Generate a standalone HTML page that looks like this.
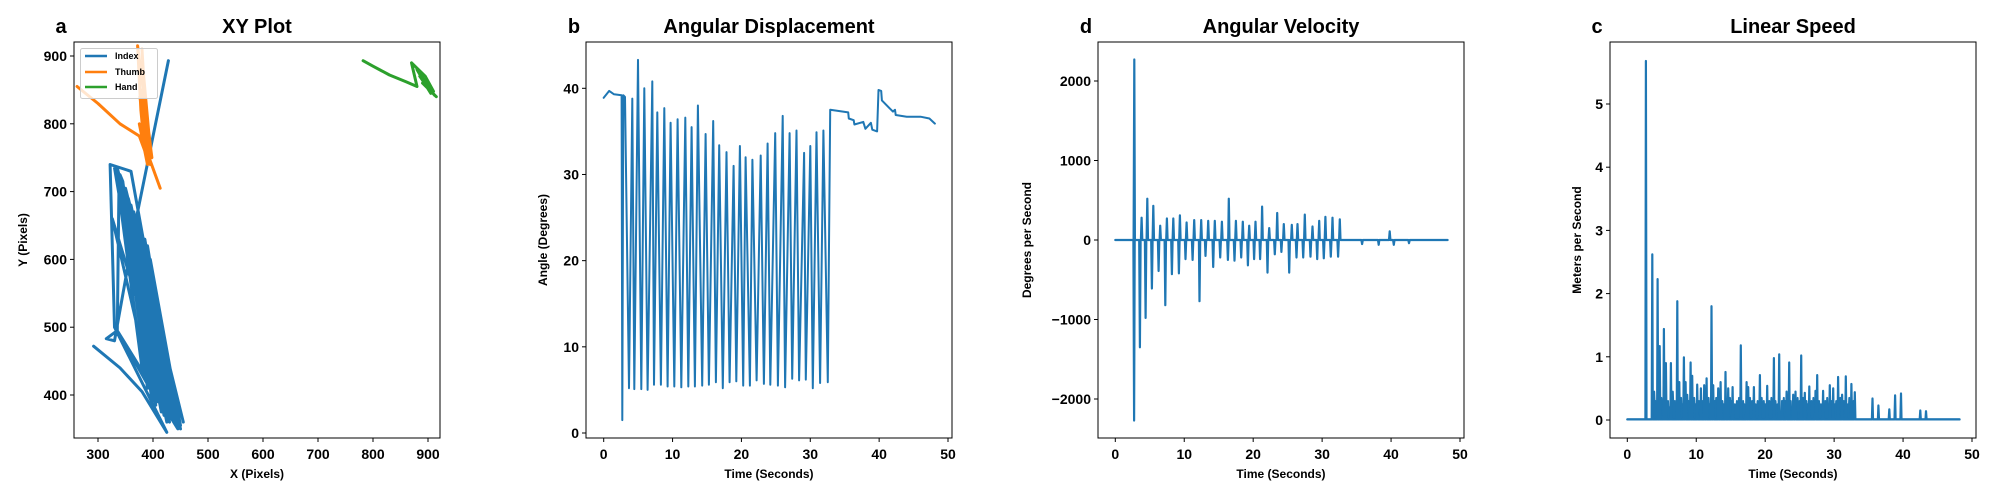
<!DOCTYPE html>
<html><head><meta charset="utf-8"><style>
html,body{margin:0;padding:0;background:#fff;}
svg{display:block;font-family:"Liberation Sans",Arial,sans-serif;font-weight:bold;}
</style></head><body>
<svg id="fig" width="2000" height="500" viewBox="0 0 2000 500" xmlns="http://www.w3.org/2000/svg"></svg>
<script>
// ---------- DATA ----------
// Panel a: XY plot
const indexX = [292,340,380,425,330,322,360,440,335,450,340,430,345,445,350,420,355,440,360,410,365,435,370,400,375,430,380,395,385,440,390,410,395,450,340,345,400,350,455,355,415,360,445,335,338,405,342,425,348,390,352,448,358,400,362,438,366,412,340,395,344,430,350,385,356,420,336,445,330,400,326,435,333,380,337,415,341,450,346,408,335,315,330,372,428];
const indexY = [472,440,405,345,500,740,730,370,735,355,720,360,710,380,700,370,690,360,680,390,670,365,660,400,650,370,640,410,630,365,620,420,600,355,725,715,380,705,360,690,395,680,350,495,700,385,690,360,680,410,670,355,660,395,650,365,640,400,715,420,705,375,695,430,685,380,720,365,735,400,660,370,728,440,712,375,700,350,690,390,495,483,480,670,893];
const thumbX = [262,300,340,375,385,378,372,395,380,390,375,398,385,380,390,395,376,392,382,388,378,384,413];
const thumbY = [855,830,800,782,760,820,915,770,850,740,800,750,830,910,770,740,840,790,880,760,820,770,705];
const handX = [782,800,830,860,880,870,895,910,890,915,900,905,895,912,880,898,885,905];
const handY = [893,885,872,862,855,890,870,848,860,840,852,845,858,842,880,855,870,850];
// Panel b: angular displacement
const angT = [0,0.8,1.5,2.6,2.7,2.85,3.1,3.67,4.16,4.45,4.98,5.46,5.9,6.38,7.06,7.3,7.79,8.3,8.8,9.28,9.72,10.25,10.73,11.27,11.85,12.28,12.77,13.25,13.68,14.3,14.8,15.28,15.9,16.3,16.78,17.3,17.84,18.28,18.86,19.25,19.78,20.26,20.6,21.23,21.6,22.2,22.8,23.26,23.8,24.2,24.9,25.3,26.0,26.35,27.0,27.37,28.0,28.38,29.1,29.35,30.0,30.37,30.9,31.43,31.9,32.54,32.9,35.5,35.6,36.3,36.4,37.7,38.0,38.8,39.0,39.7,39.9,40.3,40.4,42,42.3,42.4,44,46,47.3,48.1];
const angV = [38.9,39.7,39.3,39.2,1.5,39.2,39.0,5.2,38.8,5.1,43.3,5.1,40,5,40.8,5.6,37.2,5.6,37.7,5.4,36,5.4,36.4,5.3,36.6,5.4,35.5,5.4,38,5.5,34.7,5.6,36.2,5.9,33.4,5.2,32.6,5.9,31,6,33.3,5.5,32,5.5,31.7,6.1,32.2,5.7,33.6,5.6,34.8,5.5,36.8,5.3,34.8,6.3,35.1,6.1,32.5,6.2,33.3,5.2,34.9,5.8,35.1,5.9,37.5,37.2,36.5,36.3,35.8,36.1,35.3,36,35.2,35,39.8,39.7,38.6,37.3,37.5,36.9,36.7,36.7,36.5,35.9];
// Panel d: angular velocity spikes
const velT = [2.72,2.75,3.57,3.82,4.4,4.64,5.31,5.51,6.28,6.52,7.25,7.49,8.21,8.41,9.23,9.37,10.19,10.34,11.21,11.45,12.22,12.46,13.09,13.48,14.2,14.44,15.22,15.46,16.33,16.47,17.29,17.49,18.26,18.5,19.23,19.42,20.14,20.34,21.01,21.3,22.08,22.32,23.14,23.48,24.1,24.44,25.22,25.6,26.28,26.43,27.25,27.49,28.31,28.6,29.28,29.57,30.24,30.48,31.26,31.5,32.32,32.56,35.8,38.2,39.8,40.4,42.6];
const velV = [-2270,2270,-1350,280,-980,520,-610,430,-390,180,-820,270,-430,270,-420,310,-240,220,-250,250,-770,250,-200,240,-340,240,-220,230,-250,520,-260,240,-220,230,-320,180,-240,230,-240,420,-410,150,-180,340,-150,200,-410,190,-220,200,-220,320,-210,170,-240,240,-230,290,-210,280,-210,260,-50,-60,110,-60,-40];
// Panel c: linear speed spikes
const spdT = [2.7,3.62,4.4,4.7,5.31,5.6,6.33,7.25,7.54,8.21,8.45,9.18,9.42,10.14,10.68,11.16,11.5,12.22,12.46,13.19,13.53,14.25,14.64,15.27,16.47,17.3,17.54,18.36,19.23,20.29,21.26,22.03,22.46,23.1,23.48,24.06,24.4,25.22,25.75,26.4,27.3,27.54,28.4,29.37,29.86,30.58,31.16,31.7,32.51,33.0,35.56,36.43,38.0,38.84,39.7,42.5,43.33];
const spdV = [5.68,2.62,2.23,1.17,1.44,0.9,0.9,1.88,0.6,0.99,0.6,0.91,0.7,0.56,0.5,0.55,0.66,1.8,0.55,0.5,0.6,0.76,0.5,0.52,1.18,0.6,0.52,0.52,0.71,0.54,0.98,1.04,0.3,0.45,0.91,0.4,0.45,1.02,0.43,0.53,0.46,0.71,0.46,0.55,0.5,0.68,0.4,0.69,0.57,0.44,0.34,0.23,0.17,0.39,0.42,0.15,0.14];
const spdMinorT = [3.9,4.1,4.95,5.1,5.9,6.1,6.6,6.9,7.8,8.0,8.7,8.9,9.7,9.9,10.4,10.9,11.8,12.0,12.7,12.9,13.8,14.0,14.9,15.1,15.6,15.9,16.2,16.8,17.0,17.8,18.1,18.6,18.9,19.5,19.8,20.0,20.6,20.9,21.5,21.8,22.7,22.9,23.7,24.2,24.7,25.0,25.5,26.0,26.2,26.7,27.0,27.8,28.1,28.7,29.0,29.6,30.1,30.3,30.9,31.4,31.9,32.2,32.8];
const spdMinorV = [0.45,0.3,0.35,0.25,0.3,0.2,0.45,0.3,0.35,0.25,0.4,0.3,0.35,0.25,0.3,0.3,0.35,0.25,0.3,0.35,0.3,0.25,0.35,0.3,0.25,0.3,0.35,0.3,0.25,0.35,0.3,0.25,0.3,0.35,0.3,0.25,0.3,0.35,0.3,0.25,0.35,0.3,0.3,0.25,0.35,0.3,0.35,0.3,0.25,0.3,0.35,0.3,0.25,0.3,0.35,0.3,0.25,0.3,0.35,0.3,0.25,0.35,0.3];
// tick labels
const xyXTicks = [300,400,500,600,700,800,900];
const xyYTicks = [400,500,600,700,800,900];
const timeTicks = [0,10,20,30,40,50];
const angTicks = [0,10,20,30,40];
const velTicks = [-2000,-1000,0,1000,2000];
const spdTicks = [0,1,2,3,4,5];

// ---------- DRAW ----------
const NS = "http://www.w3.org/2000/svg";
const svg = document.getElementById('fig');
const BLUE = "#1f77b4", ORANGE = "#ff7f0e", GREEN = "#2ca02c";
function mk(tag, attrs, parent){
  const e = document.createElementNS(NS, tag);
  for (const k in attrs) e.setAttribute(k, attrs[k]);
  (parent||svg).appendChild(e);
  return e;
}
function txt(s, x, y, size, anchor, parent, rot){
  const t = mk('text', {x:x, y:y, 'font-size':size, 'text-anchor':anchor||'middle', fill:'#000'}, parent);
  if (rot) t.setAttribute('transform', 'rotate(-90 '+x+' '+y+')');
  t.textContent = s;
  return t;
}
function panel(p){
  const g = mk('g', {});
  
  
  const sx = v => p.x0 + (v - p.xv0) * p.xk;
  const sy = v => p.y0 - (v - p.yv0) * p.yk;
  const cid = 'clip-' + p.name;
  const cp = mk('clipPath', {id: cid}, g);
  mk('rect', {x:p.L, y:p.T, width:p.R-p.L, height:p.B-p.T}, cp);
  const plot = mk('g', {'clip-path':'url(#'+cid+')'}, g);
  
  
  p.draw(plot, sx, sy);
  const fr = mk('rect', {x:p.L, y:p.T, width:p.R-p.L, height:p.B-p.T, fill:'none', stroke:'#000', 'stroke-width':1}, g);
  
  
  p.xt.forEach(v => {
    const X = sx(v);
    mk('line', {x1:X, x2:X, y1:p.B, y2:p.B+4, stroke:'#000', 'stroke-width':1}, g);
    const t = txt(String(v), X, p.B+21, 14, 'middle', g);
    
    
  });
  p.yt.forEach(v => {
    const Y = sy(v);
    mk('line', {x1:p.L-4, x2:p.L, y1:Y, y2:Y, stroke:'#000', 'stroke-width':1}, g);
    const t = txt(String(v).replace('-', '\u2212'), p.L-7, Y+5, 14, 'end', g);
    
    
  });
  const tt = txt(p.title, (p.L+p.R)/2, 33, 20, 'middle', g);
  
  
  const lt = txt(p.letter, p.letterX, 33, 20, 'middle', g);
  
  
  const xl = txt(p.xlabel, (p.L+p.R)/2, 478, 12, 'middle', g);
  
  
  const yl = txt(p.ylabel, p.ylabelX, (p.T+p.B)/2, 12, 'middle', g, true);
  
  
  return g;
}
function poly(parent, xs, ys, sx, sy, color, w, name){
  const pts = xs.map((x,i) => sx(x).toFixed(1) + ',' + sy(ys[i]).toFixed(1)).join(' ');
  const e = mk('polyline', {points:pts, fill:'none', stroke:color, 'stroke-width':w, 'stroke-linejoin':'round', 'stroke-linecap':'round'}, parent);
  
  
  return e;
}
function spikes(parent, ts, vs, sx, sy, tStart, tEnd, base, w, name, hw){
  const xs = [tStart], ys = [base];
  ts.forEach((t,i) => { xs.push(t-hw, t, t+hw); ys.push(base, vs[i], base); });
  xs.push(tEnd); ys.push(base);
  return poly(parent, xs, ys, sx, sy, BLUE, w, name);
}

// Panel a
panel({name:'xy-plot', L:74, R:440, T:42, B:438, x0:98, xv0:300, xk:0.55, y0:56, yv0:900, yk:0.678,
  xt:xyXTicks, yt:xyYTicks, title:'XY Plot', letter:'a', letterX:61, xlabel:'X (Pixels)', ylabel:'Y (Pixels)', ylabelX:27,
  draw:(g,sx,sy)=>{
    poly(g, indexX, indexY, sx, sy, BLUE, 3, 'index-line');
    poly(g, thumbX, thumbY, sx, sy, ORANGE, 3, 'thumb-line');
    poly(g, handX, handY, sx, sy, GREEN, 3, 'hand-line');
  }});
const lg = mk('g', {});


mk('rect', {x:80.5, y:48.5, width:77, height:50, rx:2, fill:'#fff', 'fill-opacity':0.8, stroke:'#ccc', 'stroke-width':1}, lg);
[['Index',BLUE,56],['Thumb',ORANGE,72],['Hand',GREEN,87]].forEach(([n,c,y])=>{
  const e = mk('g', {}, lg);
  
  
  mk('line', {x1:85, x2:107, y1:y, y2:y, stroke:c, 'stroke-width':2.5}, e);
  txt(n, 115, y+3, 9, 'start', e);
});

// Panel b
panel({name:'angular-displacement', L:586, R:952, T:42, B:438, x0:603.7, xv0:0, xk:6.886, y0:433, yv0:0, yk:8.6175,
  xt:timeTicks, yt:angTicks, title:'Angular Displacement', letter:'b', letterX:574, xlabel:'Time (Seconds)', ylabel:'Angle (Degrees)', ylabelX:547,
  draw:(g,sx,sy)=>{ poly(g, angT, angV, sx, sy, BLUE, 2, 'angle-line'); }});

// Panel d
panel({name:'angular-velocity', L:1098, R:1464, T:42, B:438, x0:1115.3, xv0:0, xk:6.894, y0:240, yv0:0, yk:0.0795,
  xt:timeTicks, yt:velTicks, title:'Angular Velocity', letter:'d', letterX:1086, xlabel:'Time (Seconds)', ylabel:'Degrees per Second', ylabelX:1031,
  draw:(g,sx,sy)=>{ spikes(g, velT, velV, sx, sy, 0, 48.2, 0, 2.2, 'velocity-line', 0.1); }});

// Panel c
panel({name:'linear-speed', L:1610, R:1976, T:42, B:438, x0:1627.3, xv0:0, xk:6.894, y0:420, yv0:0, yk:63.2,
  xt:timeTicks, yt:spdTicks, title:'Linear Speed', letter:'c', letterX:1597, xlabel:'Time (Seconds)', ylabel:'Meters per Second', ylabelX:1581,
  draw:(g,sx,sy)=>{
    spikes(g, spdMinorT, spdMinorV, sx, sy, 0, 48.2, 0.01, 2, 'speed-minor-line', 0.15);
    spikes(g, spdT, spdV, sx, sy, 0, 48.2, 0.01, 2.2, 'speed-line', 0.08);
  }});
</script>
</body></html>
